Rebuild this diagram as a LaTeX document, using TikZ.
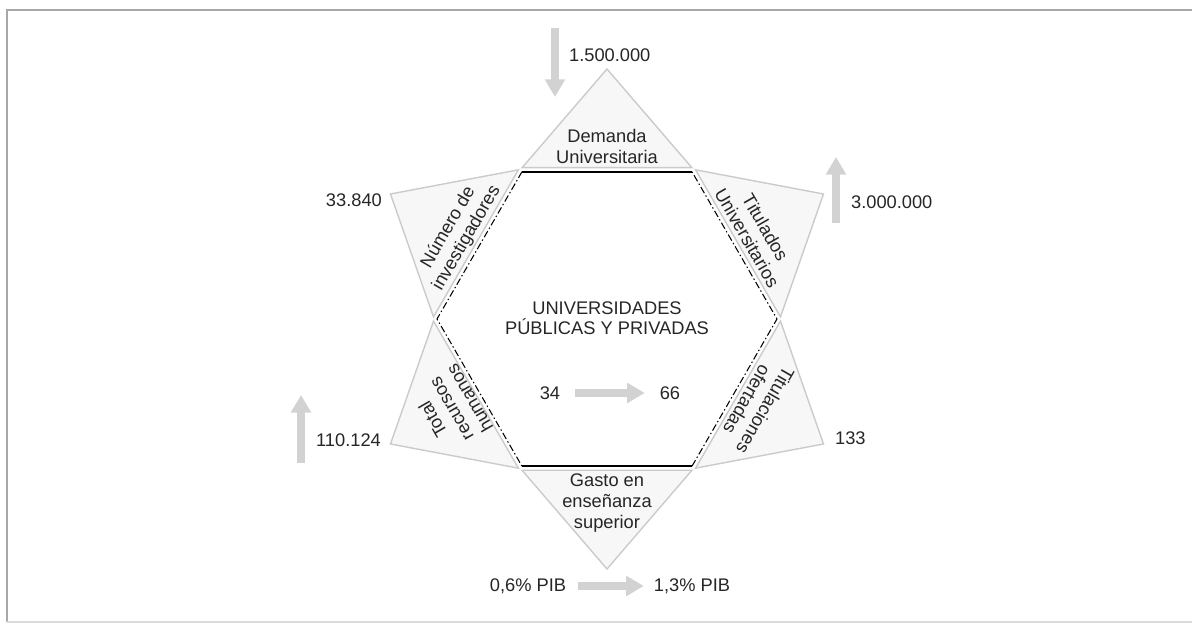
\documentclass[tikz,border=0pt]{standalone}
\usepackage{fontspec}
\setmainfont{Liberation Sans}
\usetikzlibrary{positioning,arrows.meta,calc}
\definecolor{cText}{HTML}{262626}
\definecolor{cTri}{HTML}{F7F7F7}
\definecolor{cTriEdge}{HTML}{CBCBCB}
\definecolor{cArrow}{HTML}{D2D2D2}
\definecolor{cFrame}{HTML}{A8A8A8}

\begin{document}
\begin{tikzpicture}[
    font=\fontsize{10.4}{12}\selectfont,
    text=cText,
    tri/.style={fill=cTri, draw=cTriEdge, line width=0.8pt, line join=miter},
    lbl/.style={align=center, inner sep=1pt},
    num/.style={inner sep=1pt},
    solidedge/.style={line width=0.9pt, black},
    dashedge/.style={line width=0.6pt, black, dash pattern=on 4pt off 1.5pt on 0.8pt off 1.5pt},
    bigarr/.style={-{Triangle[length=10pt, width=11pt]}, line width=4.5pt, cArrow},
    node distance=1mm and 2mm
]
\useasboundingbox (-12.14,-6.16) rectangle (11.78,6.38);

% frame
\draw[cFrame, line width=1pt] (11.7,6.18) -- (-12.0,6.18) -- (-12.0,-6.06);
\draw[cFrame!40, line width=0.8pt] (-12.0,-6.06) -- (11.7,-6.06);

% star of triangles
\draw[tri] (60.7:3.47) -- (90:5) -- (119.3:3.47) -- cycle;
\draw[tri] (120.7:3.47) -- (150:5) -- (179.3:3.47) -- cycle;
\draw[tri] (180.7:3.47) -- (210:5) -- (239.3:3.47) -- cycle;
\draw[tri] (240.7:3.47) -- (270:5) -- (299.3:3.47) -- cycle;
\draw[tri] (300.7:3.47) -- (330:5) -- (359.3:3.47) -- cycle;
\draw[tri] (0.7:3.47) -- (30:5) -- (59.3:3.47) -- cycle;

% hexagon
\coordinate (h0) at (0:3.4);
\coordinate (h1) at (60:3.4);
\coordinate (h2) at (120:3.4);
\coordinate (h3) at (180:3.4);
\coordinate (h4) at (240:3.4);
\coordinate (h5) at (300:3.4);
\draw[solidedge] (h1) -- (h2);
\draw[solidedge] (h4) -- (h5);
\draw[dashedge] (h2) -- (h3) -- (h4);
\draw[dashedge] (h5) -- (h0) -- (h1);

% triangle labels
\node[lbl] (demanda) at (90:3.45) {Demanda\\Universitaria};
\node[lbl, rotate=60] (invest) at (150:3.45) {Número de\\investigadores};
\node[lbl, rotate=-60] (titulados) at (30:3.45) {Titulados\\Universitarios};
\node[lbl, rotate=-120] (titulaciones) at (330:3.45) {Titulaciones\\ofertadas};
\node[lbl, rotate=120] (recursos) at (210:3.6) {Total\\recursos\\humanos};
\node[lbl] (gasto) at (270:3.68) {Gasto en\\enseñanza\\superior};

% centre
\node[lbl, font=\fontsize{10.4}{11.4}\selectfont] (univ) at (0,0.02) {UNIVERSIDADES\\PÚBLICAS Y PRIVADAS};
\node[num] (v34) at (-1.14,-1.48) {34};
\node[num] (v66) at (1.26,-1.48) {66};
\draw[bigarr, shorten <=2.6mm, shorten >=2.6mm] (v34) -- (v66);

% values round the star
\node[num, anchor=west] (vdem) at (-0.8,5.28) {1.500.000};
\coordinate (dtop) at (-1.04,5.82);
\coordinate (dbot) at (-1.04,4.44);
\draw[bigarr] (dtop) -- (dbot);

\node[num, anchor=west] (vtit) at (4.84,2.34) {3.000.000};
\coordinate (ttop) at (4.58,3.24);
\coordinate (tbot) at (4.58,1.92);
\draw[bigarr] (tbot) -- (ttop);

\node[num, anchor=east] (vinv) at (-4.46,2.38) {33.840};

\node[num, anchor=east] (vrec) at (-4.48,-2.42) {110.124};
\coordinate (rtop) at (-6.12,-1.52);
\coordinate (rbot) at (-6.12,-2.88);
\draw[bigarr] (rbot) -- (rtop);

\node[num, anchor=west] (vtitn) at (4.52,-2.38) {133};

\node[num] (pib1) at (-1.58,-5.34) {0,6\% PIB};
\node[num] (pib2) at (1.70,-5.34) {1,3\% PIB};
\draw[bigarr, shorten <=2mm, shorten >=1.6mm] (pib1) -- (pib2);
\end{tikzpicture}
\end{document}
